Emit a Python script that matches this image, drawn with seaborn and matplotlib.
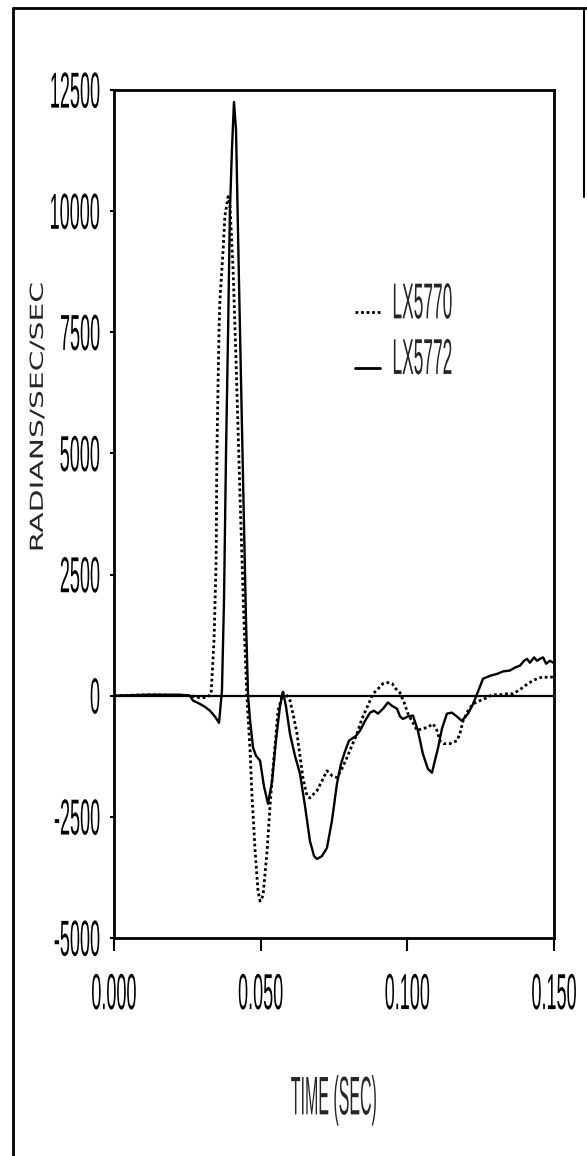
import numpy as np
import pandas as pd
import matplotlib
matplotlib.use('Agg')
import matplotlib.pyplot as plt
import seaborn as sns
from matplotlib.patheffects import AbstractPathEffect
from matplotlib.transforms import Affine2D
from matplotlib.legend_handler import HandlerLine2D
from matplotlib.lines import Line2D

# LX5772 (solid)
t_5772 = [0.0, 0.0123, 0.0225, 0.0259, 0.0269, 0.0293, 0.0310, 0.0327, 0.0344, 0.0358,
          0.0368, 0.0375, 0.0382, 0.0389, 0.0395, 0.0402, 0.0409, 0.0416, 0.0426, 0.0440,
          0.0450, 0.0457, 0.0464, 0.0474, 0.0484, 0.0498, 0.0511, 0.0525, 0.0539, 0.0552,
          0.0566, 0.0576, 0.0586, 0.0600, 0.0617, 0.0634, 0.0651, 0.0668, 0.0682, 0.0692,
          0.0709, 0.0726, 0.0743, 0.0760, 0.0774, 0.0788, 0.0801, 0.0815, 0.0825, 0.0839,
          0.0856, 0.0873, 0.0886, 0.0900, 0.0917, 0.0934, 0.0948, 0.0965, 0.0975, 0.0985,
          0.1002, 0.1019, 0.1036, 0.1053, 0.1070, 0.1084, 0.1094, 0.1105, 0.1118, 0.1135,
          0.1152, 0.1169, 0.1186, 0.1207, 0.1224, 0.1238, 0.1258, 0.1282, 0.1306, 0.1326,
          0.1350, 0.1367, 0.1384, 0.1398, 0.1408, 0.1418, 0.1432, 0.1442, 0.1452, 0.1463,
          0.1473, 0.1486, 0.1497]
a_5772 = [0, 20, 20, 0, -100, -170, -230, -310, -430, -560,
          100, 1960, 5060, 7540, 9960, 11260, 12250, 11670, 8570, 4440,
          1550, 0, -520, -1070, -1240, -1340, -1860, -2230, -1760, -930,
          -210, 80, -210, -790, -1240, -1610, -2270, -3000, -3310, -3370,
          -3310, -3140, -2580, -1820, -1400, -1140, -930, -870, -830, -720,
          -520, -350, -310, -370, -270, -140, -210, -270, -430, -480,
          -430, -410, -720, -1200, -1510, -1590, -1340, -1070, -680, -370,
          -350, -430, -520, -370, -170, 40, 350, 410, 450, 500,
          520, 580, 620, 720, 760, 680, 790, 720, 760, 790,
          660, 720, 680]

# LX5770 (dotted)
t_5770 = [0.0, 0.0123, 0.0259, 0.0293, 0.0317, 0.0331, 0.0341, 0.0348, 0.0351, 0.0355,
          0.0358, 0.0361, 0.0372, 0.0378, 0.0389, 0.0395, 0.0406, 0.0416, 0.0430, 0.0443,
          0.0453, 0.0464, 0.0470, 0.0481, 0.0491, 0.0498, 0.0508, 0.0522, 0.0532, 0.0542,
          0.0552, 0.0559, 0.0576, 0.0590, 0.0600, 0.0614, 0.0624, 0.0634, 0.0644, 0.0658,
          0.0668, 0.0682, 0.0692, 0.0709, 0.0726, 0.0743, 0.0760, 0.0777, 0.0794, 0.0811,
          0.0828, 0.0845, 0.0862, 0.0873, 0.0883, 0.0900, 0.0917, 0.0934, 0.0948, 0.0961,
          0.0975, 0.0989, 0.1002, 0.1019, 0.1033, 0.1050, 0.1067, 0.1088, 0.1101, 0.1111,
          0.1125, 0.1145, 0.1169, 0.1179, 0.1190, 0.1207, 0.1224, 0.1248, 0.1272, 0.1289,
          0.1316, 0.1340, 0.1360, 0.1377, 0.1394, 0.1411, 0.1428, 0.1442, 0.1452, 0.1466,
          0.1480, 0.1497]
a_5770 = [0, 20, 0, -40, -40, 40, 1140, 2730, 5060, 6510,
          7540, 8160, 9200, 9900, 10300, 10150, 8800, 6920, 4030, 1550,
          0, -1140, -2020, -3200, -4030, -4240, -4130, -3200, -2270, -1490,
          -830, -310, 60, 0, -100, -480, -790, -1240, -1690, -2070,
          -2110, -2020, -1960, -1760, -1550, -1650, -1690, -1510, -1280, -1030,
          -790, -480, -250, -100, 40, 140, 250, 270, 250, 140,
          60, -140, -370, -560, -720, -680, -660, -580, -720, -930,
          -990, -990, -930, -790, -520, -310, -170, -100, -40, 20,
          20, 40, 40, 100, 170, 250, 310, 350, 370, 390,
          370, 390]

y_ticks = [12500, 10000, 7500, 5000, 2500, 0, -2500, -5000]
y_ticklabels = ['12500', '10000', '7500', '5000', '2500', '0', '-2500', '-5000']
x_ticks = [0.0, 0.05, 0.10, 0.15]
x_ticklabels = ['0.000', '0.050', '0.100', '0.150']


class Stretch(AbstractPathEffect):
    """scale the glyph outlines in the text's own frame (fake condensed / tall face)"""
    def __init__(self, sx=1.0, sy=1.0, xa='center', ya='center'):
        super().__init__()
        self.sx, self.sy, self.xa, self.ya = sx, sy, xa, ya

    def draw_path(self, renderer, gc, tpath, affine, rgbFace=None):
        ext = tpath.get_extents()
        x0 = {'left': 0.0, 'right': ext.x1, 'center': (ext.x0 + ext.x1) / 2}[self.xa]
        y0 = {'baseline': 0.0, 'top': ext.y1, 'center': (ext.y0 + ext.y1) / 2}[self.ya]
        tr = (Affine2D().translate(-x0, -y0).scale(self.sx, self.sy)
              .translate(x0, y0) + affine)
        renderer.draw_path(gc, tpath, tr, rgbFace)


sns.set_style('white')
plt.rcParams['font.family'] = ['Liberation Sans', 'DejaVu Sans']
plt.rcParams['axes.unicode_minus'] = False

df_5770 = pd.DataFrame({'t': t_5770, 'a': a_5770})
df_5772 = pd.DataFrame({'t': t_5772, 'a': a_5772})

fig = plt.figure(figsize=(5.87, 11.56), dpi=100)
ax = fig.add_axes([0.1942, 0.1886, 0.7496, 0.7336])

sns.lineplot(data=df_5770, x='t', y='a', ax=ax, color='black', lw=2.0,
             linestyle=(0, (1, 1)), legend=False)
sns.lineplot(data=df_5772, x='t', y='a', ax=ax, color='black', lw=1.7,
             legend=False)
ax.axhline(0, color='black', lw=1.6, zorder=1)

ax.set_xlim(0, 0.15)
ax.set_ylim(-5000, 12500)
ax.set_xticks(x_ticks, x_ticklabels)
ax.set_yticks(y_ticks, y_ticklabels)
for s in ax.spines.values():
    s.set_linewidth(2.0)
    s.set_color('black')
ax.tick_params(axis='x', direction='out', length=9, width=1.5, pad=16.5,
               labelsize=13, colors='black', bottom=True)
ax.tick_params(axis='y', direction='out', length=3, width=1.5, pad=7,
               labelsize=13, colors='black', left=True)

ax.set_xlabel('TIME (SEC)', fontsize=11.5, va='center')
ax.xaxis.set_label_coords(0.5, -0.191)
ax.set_ylabel('RADIANS/SEC/SEC', fontsize=13, va='center', family='DejaVu Sans')
ax.yaxis.set_label_coords(-0.173, 0.614)

plt.setp(ax.get_xticklabels(), path_effects=[Stretch(1.0, 2.8, 'center', 'top')])
plt.setp(ax.get_yticklabels(), path_effects=[Stretch(1.0, 2.8, 'right', 'center')])
ax.xaxis.label.set_path_effects([Stretch(1.0, 3.4, 'center', 'center')])
ax.yaxis.label.set_path_effects([Stretch(1.65, 1.0, 'center', 'center')])

handles = [Line2D([], [], color='black', lw=2.0, linestyle=(0, (1, 1))),
           Line2D([], [], color='black', lw=2.0)]
leg = ax.legend(handles, ['LX5770', 'LX5772'], loc='upper left',
                bbox_to_anchor=(0.548, 0.745), frameon=False, fontsize=12.5,
                borderpad=0, borderaxespad=0, handlelength=1.45, handletextpad=0.7,
                labelspacing=2.33,
                handler_map={Line2D: HandlerLine2D(ypad=0.65)})
for txt in leg.get_texts():
    txt.set_path_effects([Stretch(1.0, 2.9, 'left', 'baseline')])

# outer frame of the scanned page
fig.add_artist(Line2D([0.022, 0.022], [0.0, 0.993], color='black', lw=2.0))
fig.add_artist(Line2D([0.022, 1.0], [0.993, 0.993], color='black', lw=2.0))
fig.add_artist(Line2D([0.995, 0.995], [0.83, 0.993], color='black', lw=1.5))

fig.savefig('out.png', dpi=100)
